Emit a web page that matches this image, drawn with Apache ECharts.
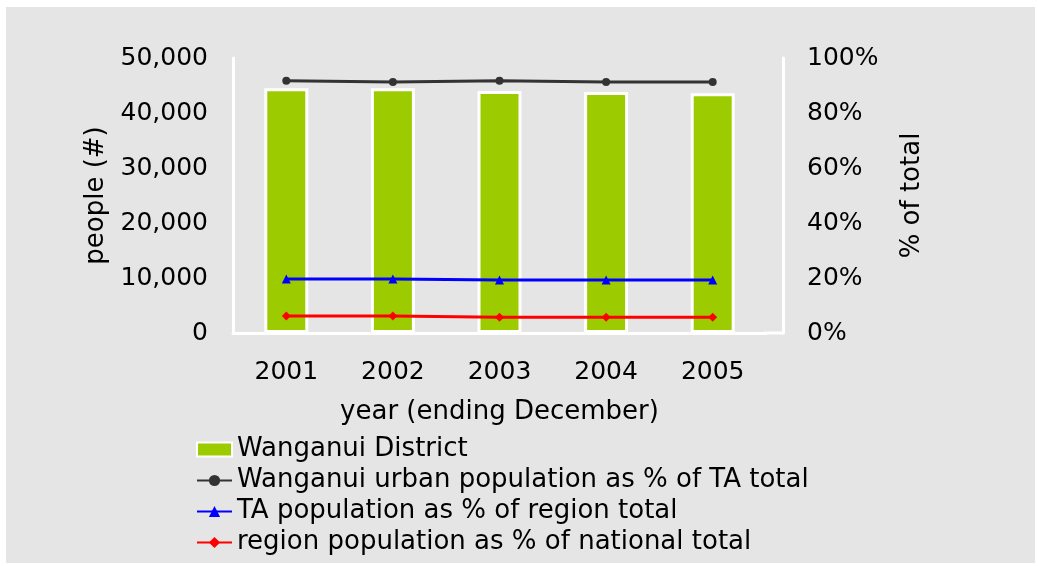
<!doctype html>
<html>
  <head>
    <meta charset="utf-8">
    <title>Wanganui District population</title>
    <script src="https://cdn.jsdelivr.net/npm/echarts@6/dist/echarts.min.js"></script>
    <style>
      body { margin: 0; background: #ffffff; }
      #main { position: absolute; left: 6px; top: 7px; width: 1029px; height: 556px; background: #e5e5e5; }
    </style>
  </head>
  <body>
    <div id="main"></div>
  </body>
  <script>
   // data
   var years = ['2001', '2002', '2003', '2004', '2005'];
   var districtPeople = [44500, 44500, 44000, 43800, 43600];
   var urbanPct = [91.7, 91.3, 91.7, 91.3, 91.3];
   var taPct = [19.6, 19.6, 19.3, 19.3, 19.3];
   var regionPct = [6.2, 6.2, 5.7, 5.7, 5.7];

   var font = 'DejaVu Sans';
   var chart = echarts.init(document.getElementById('main'));

   var option = {
     backgroundColor: 'transparent',
     textStyle: { fontFamily: font },
     grid: { left: 227, top: 51, width: 533, height: 275 },
     legend: {
       orient: 'vertical',
       left: 190,
       top: 429,
       height: 127,
       itemWidth: 35,
       itemHeight: 14,
       itemGap: 4,
       padding: 0,
       textStyle: { fontFamily: font, fontSize: 26, color: '#000', lineHeight: 27 },
       data: [
         { name: 'Wanganui District', icon: 'rect', itemStyle: { borderColor: '#fff', borderWidth: 2 } },
         'Wanganui urban population as % of TA total',
         'TA population as % of region total',
         'region population as % of national total'
       ]
     },
     xAxis: {
       type: 'category',
       data: years,
       name: 'year (ending December)',
       nameLocation: 'middle',
       nameGap: 66,
       nameTextStyle: { fontFamily: font, fontSize: 26, color: '#000' },
       axisLine: { lineStyle: { color: '#fff', width: 3 } },
       axisTick: { show: false },
       axisLabel: { fontFamily: font, fontSize: 25, color: '#000', margin: 27 }
     },
     yAxis: [
       {
         type: 'value',
         min: 0, max: 50000, interval: 10000,
         name: 'people (#)',
         nameLocation: 'middle',
         nameRotate: 90,
         nameGap: 120,
         nameTextStyle: { fontFamily: font, fontSize: 26, color: '#000' },
         axisLine: { show: true, lineStyle: { color: '#fff', width: 3 } },
         axisTick: { show: false },
         splitLine: { show: false },
         axisLabel: {
           fontFamily: font, fontSize: 25, color: '#000', margin: 25,
           formatter: function (v) { return v.toLocaleString('en-US'); }
         }
       },
       {
         type: 'value',
         position: 'right',
         offset: 17,
         min: 0, max: 100, interval: 20,
         name: '% of total',
         nameLocation: 'middle',
         nameRotate: 90,
         nameGap: 116,
         nameTextStyle: { fontFamily: font, fontSize: 26, color: '#000' },
         axisLine: { show: true, lineStyle: { color: '#fff', width: 3 } },
         axisTick: { show: false },
         splitLine: { show: false },
         axisLabel: { fontFamily: font, fontSize: 25, color: '#000', margin: 24, formatter: '{value}%' }
       }
     ],
     graphic: [
       {
         type: 'line',
         shape: { x1: 758, y1: 326, x2: 778, y2: 326 },
         style: { stroke: '#fff', lineWidth: 3 }
       }
     ],
     series: [
       {
         name: 'Wanganui District',
         type: 'bar',
         data: districtPeople,
         barWidth: 44,
         itemStyle: { color: '#9ccc00', borderColor: '#fff', borderWidth: 3 }
       },
       {
         name: 'Wanganui urban population as % of TA total',
         type: 'line',
         yAxisIndex: 1,
         data: urbanPct,
         symbol: 'circle',
         symbolSize: 8,
         lineStyle: { color: '#333333', width: 3 },
         itemStyle: { color: '#333333' }
       },
       {
         name: 'TA population as % of region total',
         type: 'line',
         yAxisIndex: 1,
         data: taPct,
         symbol: 'triangle',
         symbolSize: 9,
         lineStyle: { color: '#0000ff', width: 3 },
         itemStyle: { color: '#0000ff' }
       },
       {
         name: 'region population as % of national total',
         type: 'line',
         yAxisIndex: 1,
         data: regionPct,
         symbol: 'diamond',
         symbolSize: 9,
         lineStyle: { color: '#ff0000', width: 3 },
         itemStyle: { color: '#ff0000' }
       }
     ]
   };
   chart.setOption(option);
  </script>
</html>
